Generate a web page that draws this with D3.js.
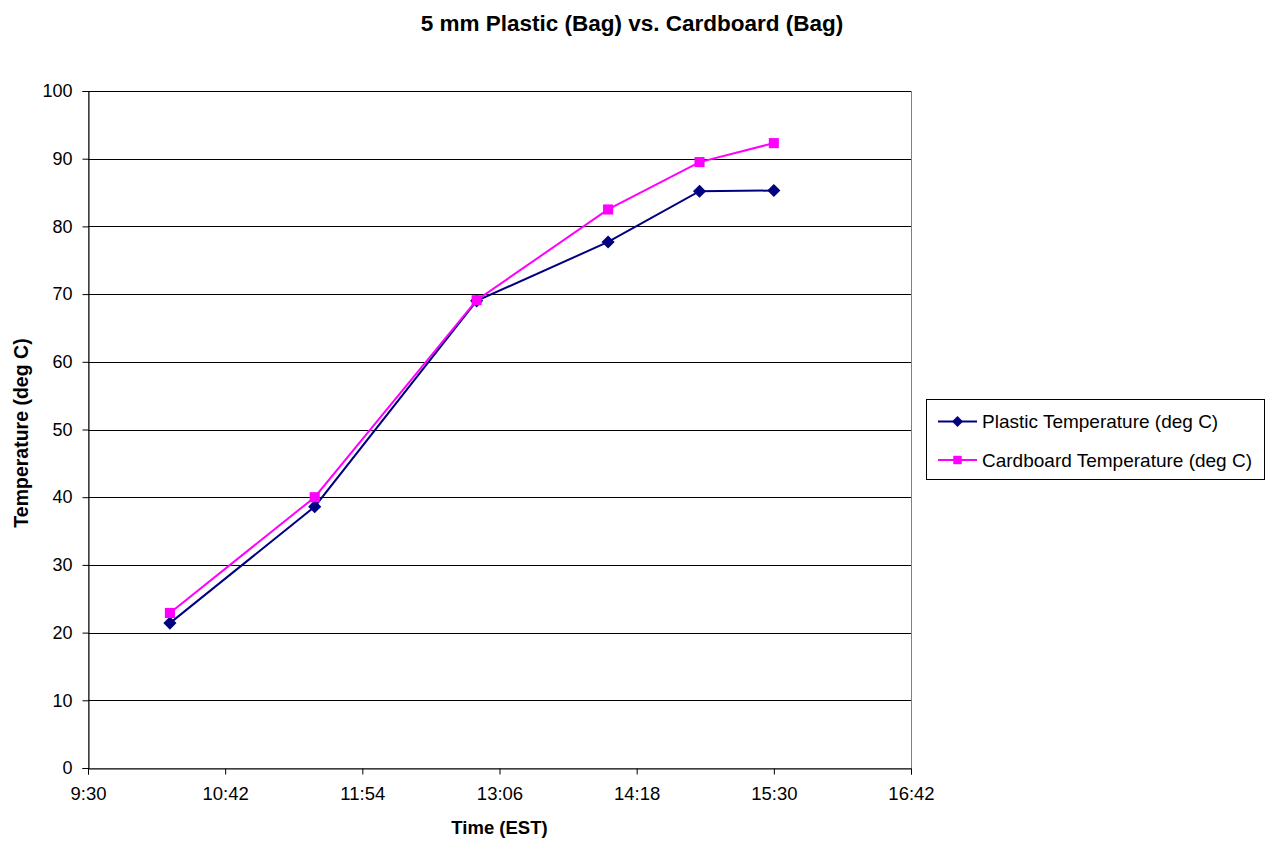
<!DOCTYPE html>
<html>
<head>
<meta charset="utf-8">
<script src="https://cdn.jsdelivr.net/npm/d3@7"></script>
<style>
    body { margin: 0; background: #fff; }
    svg { display: block; font-family: Arial, "Liberation Sans", sans-serif; }
</style>
</head>
<body>
<div id="chart"></div>
<script>
// Data (times in minutes after midnight)
const times = [613, 689, 774, 843, 891, 930];
const plasticTemps = [21.4, 38.6, 69.0, 77.7, 85.2, 85.3];
const cardboardTemps = [22.9, 40.0, 69.1, 82.5, 89.5, 92.3];
const seriesNames = ["Plastic Temperature (deg C)", "Cardboard Temperature (deg C)"];
const xTicks = [570, 642, 714, 786, 858, 930, 1002];
const yTicks = [0, 10, 20, 30, 40, 50, 60, 70, 80, 90, 100];

const width = 1274, height = 842;
const margin = { top: 91, right: 363, bottom: 74, left: 88 };

const svg = d3.select("#chart").append("svg")
    .attr("width", width)
    .attr("height", height);

const x = d3.scaleLinear()
    .domain([570, 1002])
    .range([margin.left, width - margin.right]);

const y = d3.scaleLinear()
    .domain([0, 100])
    .range([height - margin.bottom, margin.top]);

// Format minutes as h:mm
function fmtTime(m) {
    const h = Math.floor(m / 60);
    const mm = m % 60;
    return h + ":" + (mm < 10 ? "0" + mm : mm);
}

// Plot area border
svg.append("rect")
    .attr("x", x(570) + 0.5)
    .attr("y", y(100) + 0.5)
    .attr("width", x(1002) - x(570))
    .attr("height", y(0) - y(100))
    .attr("fill", "none")
    .attr("stroke", "#808080");

// Horizontal gridlines
svg.append("g")
    .selectAll("line")
    .data(yTicks.slice(1))
    .enter().append("line")
    .attr("x1", x(570))
    .attr("x2", x(1002))
    .attr("y1", d => Math.round(y(d)) + 0.5)
    .attr("y2", d => Math.round(y(d)) + 0.5)
    .attr("stroke", "#000")
    .attr("stroke-width", 1);

// Y axis
const yAxis = svg.append("g")
    .attr("transform", "translate(" + (x(570) + 0.5) + ",0)")
    .call(d3.axisLeft(y).tickValues(yTicks).tickSize(6).tickPadding(10));
yAxis.selectAll("text").style("font-size", "18px").attr("fill", "#000");
yAxis.selectAll("line, path").attr("stroke", "#000");

// X axis
const xAxis = svg.append("g")
    .attr("transform", "translate(0," + (y(0) + 0.5) + ")")
    .call(d3.axisBottom(x).tickValues(xTicks).tickFormat(fmtTime).tickSize(6).tickPadding(12));
xAxis.selectAll("text").style("font-size", "18.5px").attr("fill", "#000");
xAxis.selectAll("line, path").attr("stroke", "#000");

// Series
const series = [
    { name: seriesNames[0], values: plasticTemps, color: "#000080", symbol: d3.symbolDiamond2, size: 110 },
    { name: seriesNames[1], values: cardboardTemps, color: "#FF00FF", symbol: d3.symbolSquare2, size: 130 }
];

const line = d3.line()
    .x((d, i) => x(times[i]))
    .y(d => y(d));

series.forEach(s => {
    svg.append("path")
        .datum(s.values)
        .attr("fill", "none")
        .attr("stroke", s.color)
        .attr("stroke-width", 2)
        .attr("d", line);

    svg.append("g")
        .selectAll("path")
        .data(s.values)
        .enter().append("path")
        .attr("transform", (d, i) => "translate(" + x(times[i]) + "," + y(d) + ")")
        .attr("d", d3.symbol().type(s.symbol).size(s.size))
        .attr("fill", s.color);
});

// Title
svg.append("text")
    .attr("x", 632)
    .attr("y", 31)
    .attr("text-anchor", "middle")
    .style("font-size", "22.5px")
    .style("font-weight", "bold")
    .text("5 mm Plastic (Bag) vs. Cardboard (Bag)");

// Axis titles
svg.append("text")
    .attr("x", (x(570) + x(1002)) / 2)
    .attr("y", 834)
    .attr("text-anchor", "middle")
    .style("font-size", "18.5px")
    .style("font-weight", "bold")
    .text("Time (EST)");

svg.append("text")
    .attr("transform", "translate(28," + 433 + ") rotate(-90)")
    .attr("text-anchor", "middle")
    .style("font-size", "19.5px")
    .style("font-weight", "bold")
    .text("Temperature (deg C)");

// Legend
const legend = svg.append("g");
legend.append("rect")
    .attr("x", 926.5)
    .attr("y", 399.5)
    .attr("width", 338)
    .attr("height", 80)
    .attr("fill", "#fff")
    .attr("stroke", "#000");

series.forEach((s, i) => {
    const ly = 421.5 + i * 38.5;
    legend.append("line")
        .attr("x1", 938).attr("x2", 977)
        .attr("y1", ly).attr("y2", ly)
        .attr("stroke", s.color)
        .attr("stroke-width", 2);
    legend.append("path")
        .attr("transform", "translate(957.5," + ly + ")")
        .attr("d", d3.symbol().type(s.symbol).size(s.size * 0.7))
        .attr("fill", s.color);
    legend.append("text")
        .attr("x", 982)
        .attr("y", ly + 6.5)
        .style("font-size", "19px")
        .text(s.name);
});
</script>
</body>
</html>
